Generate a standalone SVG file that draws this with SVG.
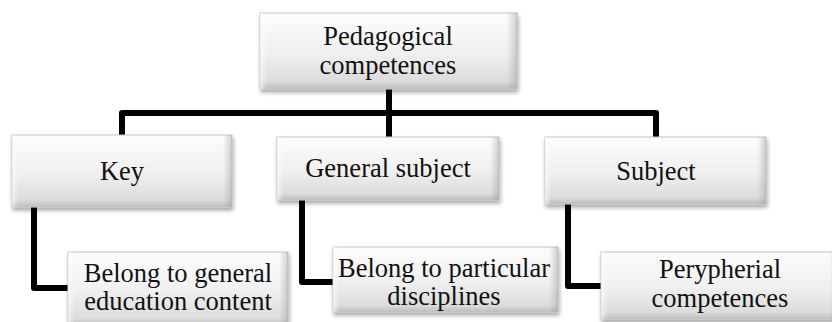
<svg xmlns="http://www.w3.org/2000/svg" width="832" height="322" viewBox="0 0 832 322">
<defs>
<linearGradient id="fillG" x1="0" y1="0" x2="0" y2="1">
<stop offset="0" stop-color="#fdfdfd"/>
<stop offset="0.55" stop-color="#efefef"/>
<stop offset="0.9" stop-color="#dcdcdc"/>
<stop offset="1" stop-color="#bdbdbd"/>
</linearGradient>
<linearGradient id="sideG" x1="0" y1="0" x2="1" y2="0">
<stop offset="0" stop-color="#ffffff" stop-opacity="0.6"/>
<stop offset="0.03" stop-color="#ffffff" stop-opacity="0"/>
<stop offset="0.96" stop-color="#9a9a9a" stop-opacity="0"/>
<stop offset="1" stop-color="#9a9a9a" stop-opacity="0.45"/>
</linearGradient>
<filter id="shadow" x="-10%" y="-10%" width="120%" height="130%">
<feGaussianBlur in="SourceAlpha" stdDeviation="2"/>
<feOffset dx="1" dy="3" result="b"/>
<feComponentTransfer><feFuncA type="linear" slope="0.35"/></feComponentTransfer>
<feMerge><feMergeNode/><feMergeNode in="SourceGraphic"/></feMerge>
</filter>
</defs>
<style>
.box{fill:url(#fillG);stroke:#c4c4c4;stroke-width:1;filter:url(#shadow)}
.side{fill:url(#sideG);stroke:none}
.lbl{font-family:"Liberation Serif","Times New Roman",serif;font-size:26.5px;fill:#111;text-anchor:middle}
.conn{fill:none;stroke:#000;stroke-width:6;stroke-linejoin:round}
</style>
<g id="connectors">
<path class="conn" d="M122,135 V113 H656 V137"/>
<path class="conn" d="M389,89 V137"/>
<path class="conn" d="M34,207 V288 H68"/>
<path class="conn" d="M302,200 V282 H333"/>
<path class="conn" d="M568,204 V286 H601"/>
</g>
<g id="node-pedagogical">
<rect class="box" x="260" y="13" width="257" height="76"/>
<rect class="side" x="260" y="13" width="257" height="76"/>
<text class="lbl" x="388" y="45">Pedagogical</text>
<text class="lbl" x="388" y="74">competences</text>
</g>
<g id="node-key">
<rect class="box" x="12" y="135" width="220" height="72"/>
<rect class="side" x="12" y="135" width="220" height="72"/>
<text class="lbl" x="122" y="180">Key</text>
</g>
<g id="node-general-subject">
<rect class="box" x="277" y="137" width="222" height="63"/>
<rect class="side" x="277" y="137" width="222" height="63"/>
<text class="lbl" x="388" y="177">General subject</text>
</g>
<g id="node-subject">
<rect class="box" x="545" y="137" width="221" height="67"/>
<rect class="side" x="545" y="137" width="221" height="67"/>
<text class="lbl" x="656" y="180">Subject</text>
</g>
<g id="node-key-child">
<rect class="box" x="68" y="252" width="220" height="74"/>
<rect class="side" x="68" y="252" width="220" height="74"/>
<text class="lbl" x="178" y="282">Belong to general</text>
<text class="lbl" x="178" y="310">education content</text>
</g>
<g id="node-general-child">
<rect class="box" x="333" y="247" width="225" height="65"/>
<rect class="side" x="333" y="247" width="225" height="65"/>
<text class="lbl" x="444" y="277">Belong to particular</text>
<text class="lbl" x="444" y="305">disciplines</text>
</g>
<g id="node-subject-child">
<rect class="box" x="601" y="252" width="238" height="67"/>
<rect class="side" x="601" y="252" width="238" height="67"/>
<text class="lbl" x="720" y="278">Perypherial</text>
<text class="lbl" x="720" y="307">competences</text>
</g>
</svg>
